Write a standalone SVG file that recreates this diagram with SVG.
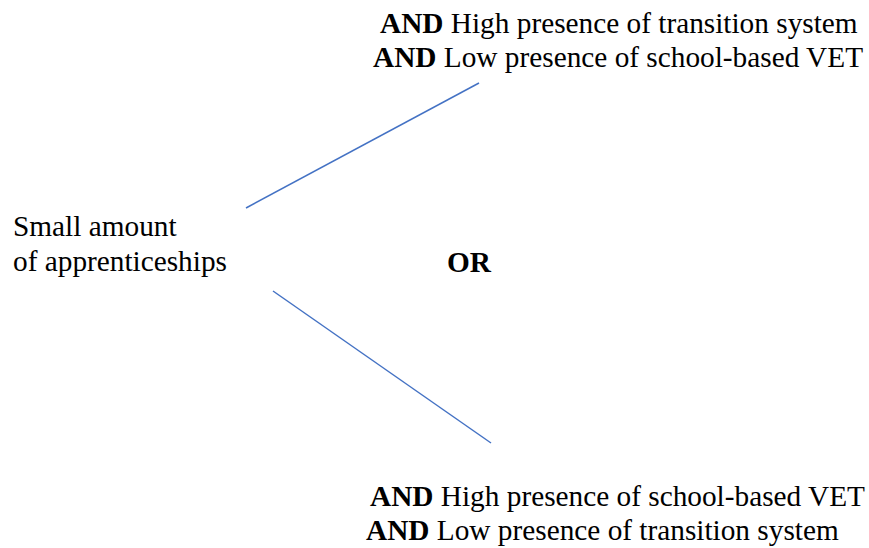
<svg xmlns="http://www.w3.org/2000/svg" width="869" height="548" viewBox="0 0 869 548">
<style>
text{font-family:"Liberation Serif","Times New Roman",serif;font-size:29.3px;fill:#000}
.b{font-weight:bold}
.c{stroke:#4472C4;stroke-width:1.5;fill:none}
</style>
<rect width="869" height="548" fill="#fff"/>
<g id="connectors">
<line class="c" x1="246" y1="208" x2="479" y2="83"/>
<line class="c" x1="273" y1="291" x2="491" y2="443"/>
</g>
<g id="node-top">
<text x="380" y="33"><tspan class="b">AND</tspan> High presence of transition system</text>
<text x="373" y="67"><tspan class="b">AND</tspan> Low presence of school-based VET</text>
</g>
<g id="node-left">
<text x="13" y="236">Small amount</text>
<text x="13" y="271">of apprenticeships</text>
</g>
<g id="node-or">
<text class="b" x="447" y="272">OR</text>
</g>
<g id="node-bottom">
<text x="370" y="506"><tspan class="b">AND</tspan> High presence of school-based VET</text>
<text x="366" y="540"><tspan class="b">AND</tspan> Low presence of transition system</text>
</g>
</svg>
